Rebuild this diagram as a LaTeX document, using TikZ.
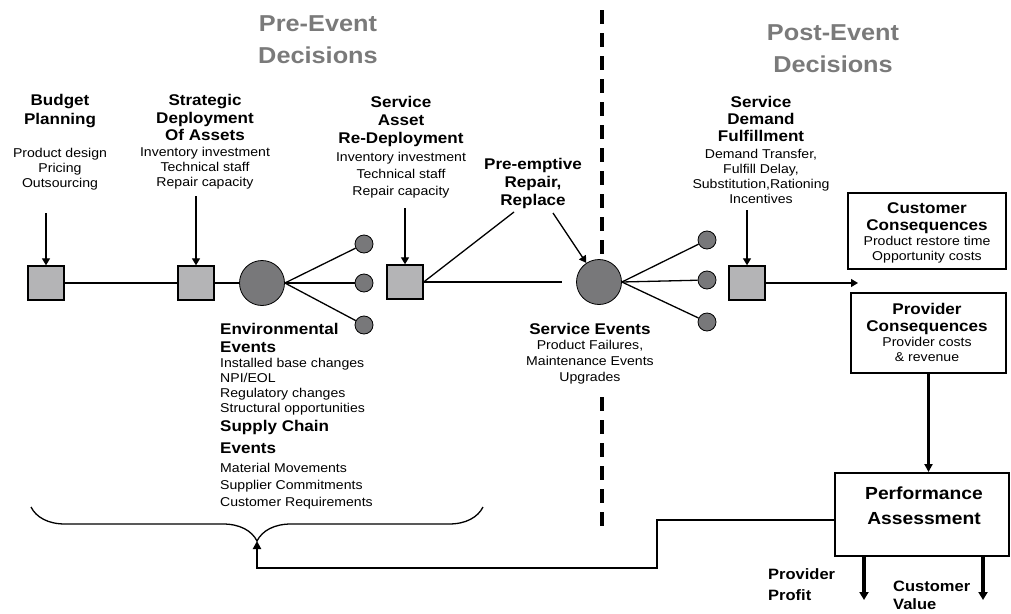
\documentclass[tikz,border=0pt]{standalone}
\usepackage{fontspec}
\setmainfont[FakeStretch=1.1]{Liberation Sans}
\usetikzlibrary{arrows.meta,decorations.pathreplacing}

\definecolor{boxgray}{HTML}{B4B4B6}
\definecolor{evgray}{HTML}{78787A}
\definecolor{titlegray}{HTML}{7A7A7A}

\tikzset{
  every node/.style={inner sep=0pt},
  title/.style={font=\bfseries\fontsize{23}{32}\selectfont, text=titlegray, align=center, anchor=north},
  head/.style={font=\bfseries\fontsize{15.5}{#1}\selectfont, align=center, anchor=north},
  head/.default=18,
  items/.style={font=\fontsize{12.8}{#1}\selectfont, align=center, anchor=north},
  items/.default=15,
  decision/.style={draw=black, line width=1.4pt, fill=boxgray, minimum width=36pt, minimum height=34pt},
  bigev/.style={circle, draw=black, line width=0.8pt, fill=evgray, minimum size=45pt},
  smallev/.style={circle, draw=black, line width=0.8pt, fill=evgray, minimum size=18pt},
  panel/.style={draw=black, line width=2pt},
  conn/.style={line width=1.3pt},
  arr/.style={line width=1.3pt, -{Triangle[length=7pt,width=8pt]}},
  fbarr/.style={line width=2.4pt, -{Triangle[length=8pt,width=8pt]}},
  outarr/.style={line width=3.2pt, -{Triangle[length=8pt,width=9pt]}},
  divider/.style={line width=3.6pt, dash pattern=on 14pt off 9pt},
}

\begin{document}
\begin{tikzpicture}[x=1pt,y=-1pt]
\useasboundingbox (0,0) rectangle (1011,613);

% phase titles
\node[title] (pretitle) at (318,15) {Pre-Event\\Decisions};
\node[title] (posttitle) at (833,24) {Post-Event\\Decisions};

% divider between the phases
\coordinate (dv1) at (602,10);
\coordinate (dv2) at (602,258);
\coordinate (dv3) at (602,397);
\coordinate (dv4) at (602,527);
\draw[divider] (dv1) -- (dv2);
\draw[divider] (dv3) -- (dv4);

% decision labels
\node[head=19] (bph) at (60,94.5) {Budget\\Planning};
\node[items] (bpi) at (60,148.5) {Product design\\Pricing\\Outsourcing};

\node[head=17.5] (sdh) at (205,94.5) {Strategic\\Deployment\\Of Assets};
\node[items] (sdi) at (205,147.5) {Inventory investment\\Technical staff\\Repair capacity};

\node[head=18] (sah) at (401,96.5) {Service\\Asset\\Re-Deployment};
\node[items=17] (sai) at (401,152.5) {Inventory investment\\Technical staff\\Repair capacity};

\node[head=18] (prh) at (533,158.5) {Pre-emptive\\Repair,\\Replace};

\node[head=17] (dfh) at (761,96.5) {Service\\Demand\\Fulfillment};
\node[items] (dfi) at (761,149.5) {Demand Transfer,\\Fulfill Delay,\\Substitution,Rationing\\Incentives};

% decision boxes
\node[decision] (b1) at (46,283) {};
\node[decision] (b2) at (196,283) {};
\node[decision] (b3) at (405,282) {};
\node[decision] (b4) at (747,283) {};

% event nodes
\node[bigev] (c1) at (262,283) {};
\node[smallev] (s1) at (364,244) {};
\node[smallev] (s2) at (364,283) {};
\node[smallev] (s3) at (364,325) {};

\node[bigev] (c2) at (599,282) {};
\node[smallev] (t1) at (707,240) {};
\node[smallev] (t2) at (707,280) {};
\node[smallev] (t3) at (707,322) {};

% arrows into the decisions
\coordinate (in1) at (46,213);
\coordinate (in2) at (196,196);
\coordinate (in3) at (405,208);
\coordinate (in4) at (747,210);
\draw[arr] (in1) -- (b1.north);
\draw[arr] (in2) -- (b2.north);
\draw[arr] (in3) -- (b3.north);
\draw[arr] (in4) -- (b4.north);

% timeline
\draw[conn] (b1.east) -- (b2.west);
\draw[conn] (b2.east) -- (c1.west);
\draw[conn] (c1.east) -- (s1);
\draw[conn] (c1.east) -- (s2);
\draw[conn] (c1.east) -- (s3);
\coordinate (gapend) at (562,282);
\draw[conn] (b3.east) -- (gapend);
\coordinate (pretail) at (514,212);
\draw[conn] (b3.east) -- (pretail);
\coordinate (prehead) at (553,213);
\draw[arr] (prehead) -- (c2);
\draw[conn] (c2.east) -- (t1);
\draw[conn] (c2.east) -- (t2);
\draw[conn] (c2.east) -- (t3);
\coordinate (outcome) at (858,283);
\draw[arr] (b4.east) -- (outcome);

% event descriptions
\node[head=18, anchor=north west, align=left] (envh) at (220,323.5) {Environmental\\Events};
\node[items, anchor=north west, align=left] (envi) at (220,358.5) {Installed base changes\\NPI/EOL\\Regulatory changes\\Structural opportunities};
\node[head=22, anchor=north west, align=left] (sch) at (220,420.5) {Supply Chain\\Events};
\node[items=17, anchor=north west, align=left] (sci) at (220,463.5) {Material Movements\\Supplier Commitments\\Customer Requirements};

\node[head] (seh) at (590,323.5) {Service Events};
\node[items=16] (sei) at (590,340.5) {Product Failures,\\Maintenance Events\\Upgrades};

% consequence panels
\node[panel, minimum width=158pt, minimum height=76pt] (cbox) at (927,231) {};
\node[head=17] (cbh) at (927,202.5) {Customer\\Consequences};
\node[items] (cbi) at (927,236.5) {Product restore time\\Opportunity costs};

\node[panel, minimum width=155pt, minimum height=80pt] (pbox) at (928.5,333) {};
\node[head=17] (pbh) at (927,303.5) {Provider\\Consequences};
\node[items] (pbi) at (927,337.5) {Provider costs\\\& revenue};

% performance assessment
\node[panel, minimum width=174pt, minimum height=83pt] (perf) at (922,514.5) {};
\node[font=\bfseries\fontsize{17.5}{25}\selectfont, align=center, anchor=north] (perft) at (924,486.5) {Performance\\Assessment};
\draw[fbarr] (pbox.south) -- (pbox.south |- perf.north);

% outputs
\coordinate (pp) at (864,600);
\coordinate (cv) at (983,600);
\draw[outarr] (perf.south -| pp) -- (pp);
\draw[outarr] (perf.south -| cv) -- (cv);
\node[font=\bfseries\fontsize{15}{21}\selectfont, align=left, anchor=north west] (ppt) at (768,568.6) {Provider\\Profit};
\node[font=\bfseries\fontsize{15}{18}\selectfont, align=left, anchor=north west] (cvt) at (893,580.6) {Customer\\Value};

% brace over the pre-event decisions and feedback loop
\coordinate (brl) at (31,507);
\coordinate (brr) at (483,507);
\draw[line width=1.3pt, decorate, decoration={brace, amplitude=34pt, mirror}] (brl) -- (brr);
\coordinate (fb1) at (657,520);
\coordinate (fb2) at (657,568);
\coordinate (fb3) at (257,568);
\coordinate (bt) at (257,541);
\draw[fbarr] ([yshift=-5.5pt]perf.west) -- (fb1) -- (fb2) -- (fb3) -- (bt);

\end{tikzpicture}
\end{document}
